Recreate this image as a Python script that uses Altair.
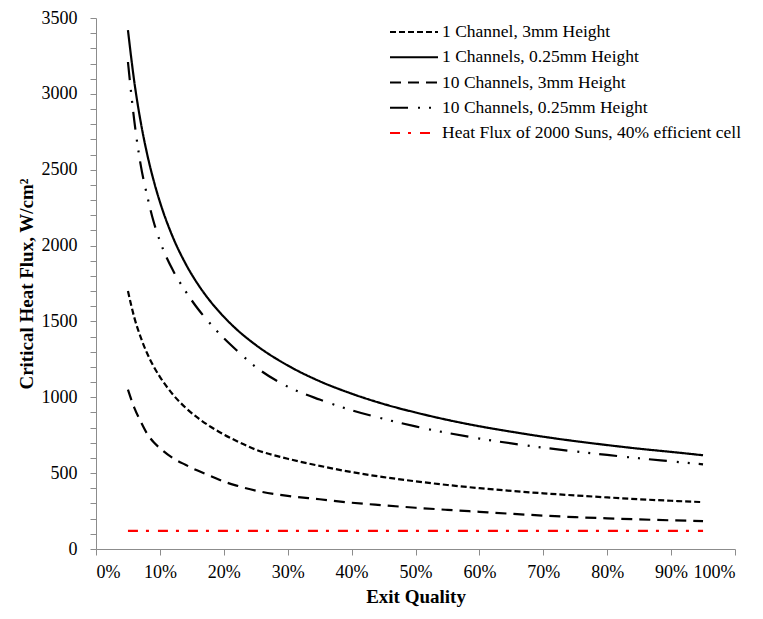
import altair as alt
import pandas as pd

# Exit quality (fraction)
quality = [0.05, 0.06, 0.07, 0.08, 0.09, 0.10, 0.12, 0.14, 0.16, 0.18, 0.20, 0.22,
           0.25, 0.30, 0.35, 0.40, 0.45, 0.50, 0.55, 0.60, 0.65, 0.70, 0.75, 0.80,
           0.85, 0.90, 0.95]

series_names = [
    "1 Channel, 3mm Height",
    "1 Channels, 0.25mm Height",
    "10 Channels, 3mm Height",
    "10 Channels, 0.25mm Height",
    "Heat Flux of 2000 Suns, 40% efficient cell",
]

one_ch_3mm = [1700, 1525, 1395, 1290, 1205, 1135, 1020, 932, 862, 804, 755, 712,
              655, 595, 548, 507, 474, 446, 422, 401, 383, 367, 353, 340, 328, 318, 309]
one_ch_025mm = [3420, 3078, 2814, 2604, 2432, 2288, 2058, 1882, 1742, 1627, 1531, 1448,
                1345, 1210, 1106, 1024, 956, 900, 851, 809, 773, 740, 711, 685, 661, 640, 618]
ten_ch_3mm = [1050, 930, 840, 760, 705, 665, 600, 555, 515, 480, 445, 418,
              385, 350, 328, 305, 288, 272, 258, 245, 232, 220, 210, 202, 195, 189, 184]
ten_ch_025mm = [3210, 2820, 2530, 2330, 2160, 2030, 1840, 1700, 1580, 1480, 1390, 1310,
                1200, 1070, 985, 915, 858, 808, 765, 728, 696, 668, 643, 620, 598, 578, 558]
suns_flux = [120] * len(quality)

series_values = [one_ch_3mm, one_ch_025mm, ten_ch_3mm, ten_ch_025mm, suns_flux]

rows = []
for name, vals in zip(series_names, series_values):
    for q, v in zip(quality, vals):
        rows.append({"quality": q, "chf": v, "series": name})
df = pd.DataFrame(rows)
legend_df = pd.DataFrame({"series": series_names})

colors = ["black", "black", "black", "black", "#ff0000"]
dashes = [[6, 3], [1, 0], [11, 7], [18, 10, 2, 9, 2, 9], [10, 8, 3, 9]]
widths = [2.2, 2.2, 2.2, 2.2, 2.6]

FONT = "Liberation Serif"

color_enc = alt.Color("series:N", scale=alt.Scale(domain=series_names, range=colors), legend=None)
dash_enc = alt.StrokeDash("series:N", scale=alt.Scale(domain=series_names, range=dashes), legend=None)
width_enc = alt.StrokeWidth("series:N", scale=alt.Scale(domain=series_names, range=widths), legend=None)

lines = alt.Chart(df).mark_line(interpolate="monotone").encode(
    x=alt.X("quality:Q",
            scale=alt.Scale(domain=[0, 1], nice=False),
            axis=alt.Axis(title="Exit Quality", format=".0%",
                          values=[i / 10 for i in range(11)],
                          labelOverlap=False,
                          labelPadding=8,
                          titleFontSize=19,
                          titlePadding=6)),
    y=alt.Y("chf:Q",
            scale=alt.Scale(domain=[0, 3500], nice=False),
            axis=alt.Axis(title="Critical Heat Flux, W/cm²",
                          values=list(range(0, 3501, 100)),
                          labelExpr="datum.value % 500 == 0 ? datum.value : ''",
                          labelOverlap=False,
                          labelPadding=13,
                          titlePadding=5)),
    color=color_enc,
    strokeDash=dash_enc,
    strokeWidth=width_enc,
    detail="series:N",
)

leg_y = alt.Y("series:N", scale=alt.Scale(domain=series_names, range=[14, 115], type="point", padding=0), axis=None)

leg_rules = alt.Chart(legend_df).mark_rule().encode(
    x=alt.value(294), x2=alt.value(342),
    y=leg_y,
    color=color_enc,
    strokeDash=dash_enc,
    strokeWidth=width_enc,
)

leg_text = alt.Chart(legend_df).mark_text(align="left", baseline="middle", font=FONT,
                                          fontSize=17.5, color="black").encode(
    x=alt.value(346),
    y=leg_y,
    text="series:N",
)

chart = alt.layer(lines, leg_rules, leg_text).resolve_scale(y="independent").properties(
    width=639, height=531,
    autosize="none",
    padding={"left": 88, "top": 10, "right": 20, "bottom": 62},
).configure_view(stroke=None).configure_axis(
    grid=False,
    domainColor="#8c8c8c",
    tickColor="#8c8c8c",
    tickSize=6,
    labelFont=FONT,
    labelFontSize=18,
    labelColor="black",
    titleFont=FONT,
    titleFontSize=19,
    titleFontWeight="bold",
    titleColor="black",
)

chart.save("out.html", embed_options={"renderer": "svg", "actions": False})
